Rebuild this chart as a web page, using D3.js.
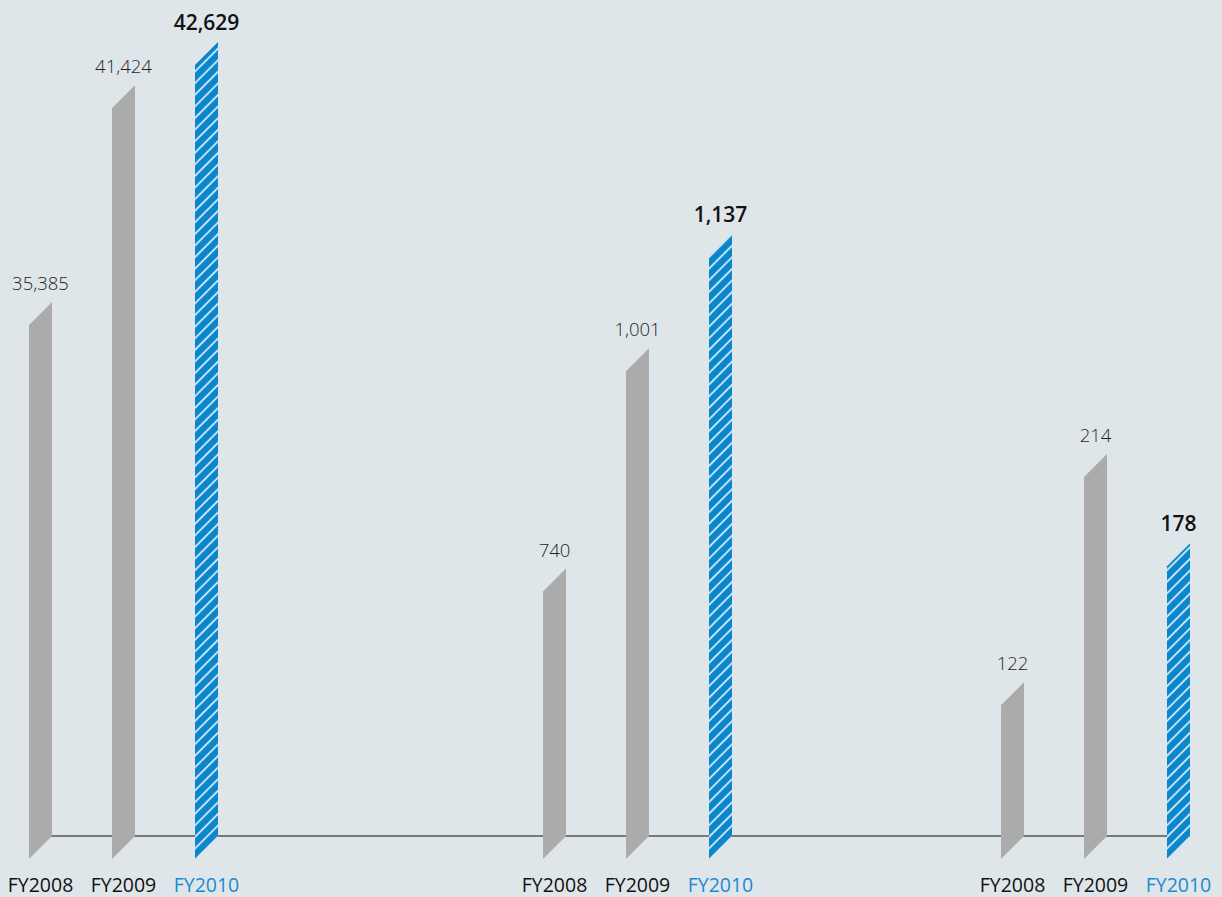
<!DOCTYPE html>
<html>
<head>
<meta charset="utf-8">
<script src="https://cdn.jsdelivr.net/npm/d3@7"></script>
<style>
  html, body { margin: 0; padding: 0; background: #dfe6ea; }
  svg { display: block; font-family: 'Open Sans', 'Noto Sans', sans-serif; }
</style>
</head>
<body>
<div id="chrt"></div>
<script>
// *** three panels, FY2008..FY2010, slanted bars, current year hatched ***
const years = ['FY2008', 'FY2009', 'FY2010'];
const groups = ['g1', 'g2', 'g3'];
const valuesG1 = [35385, 41424, 42629];
const valuesG2 = [740, 1001, 1137];
const valuesG3 = [122, 214, 178];
const valueLabelsG1 = ['35,385', '41,424', '42,629'];
const valueLabelsG2 = ['740', '1,001', '1,137'];
const valueLabelsG3 = ['122', '214', '178'];

const width = 1222;
const height = 897;
const baseY = 836; // baseline of all panels
const topY = 42;
const barW = 23;
const clrGrey = '#aaabaa';
const clrBlue = '#0a86cc';

// every panel has its own (non-zero based) hidden value axis
const panelDomains = [[20500, 42629], [423, 1364], [60, 380]];
const panelX = d3.scaleOrdinal().domain(groups).range([29, 543, 1001]);
const yearX = d3.scaleBand().domain(years).range([0, 83 * 3]).paddingInner(0).paddingOuter(0);

const allValues = [valuesG1, valuesG2, valuesG3];
const allLabels = [valueLabelsG1, valueLabelsG2, valueLabelsG3];

const svg = d3.select('#chrt').append('svg')
    .attr('width', width)
    .attr('height', height);

// hatch pattern for the current year
const defs = svg.append('defs');
const pat = defs.append('pattern')
    .attr('id', 'hatch')
    .attr('patternUnits', 'userSpaceOnUse')
    .attr('width', 8.2)
    .attr('height', 8.2)
    .attr('patternTransform', 'rotate(45)');
pat.append('rect').attr('width', 8.2).attr('height', 8.2).attr('fill', clrBlue);
pat.append('line')
    .attr('x1', 4).attr('y1', 0).attr('x2', 4).attr('y2', 8.2)
    .attr('stroke', '#ffffff')
    .attr('stroke-width', 1.5);

// baseline, drawn first so that the bars sit over it
svg.append('line')
    .attr('x1', panelX('g1'))
    .attr('x2', panelX('g3') + yearX('FY2010') + barW)
    .attr('y1', baseY)
    .attr('y2', baseY)
    .attr('stroke', '#777878')
    .attr('stroke-width', 2);

groups.forEach((g, gi) => {
  const scaleY = d3.scaleLinear().domain(panelDomains[gi]).range([baseY, topY]);
  const rows = years.map((yr, i) => ({ year: yr, value: allValues[gi][i], label: allLabels[gi][i] }));
  const panel = svg.append('g').attr('transform', 'translate(' + panelX(g) + ',0)');

  // slanted bars: top and bottom cut at 45 degrees
  panel.selectAll('.bar')
      .data(rows)
      .enter()
      .append('path')
      .attr('class', 'bar')
      .attr('fill', (d) => d.year === 'FY2010' ? 'url(#hatch)' : clrGrey)
      .attr('d', (d) => {
        const x0 = yearX(d.year);
        const yT = scaleY(d.value);
        return 'M' + x0 + ',' + (yT + barW) + 'L' + (x0 + barW) + ',' + yT +
          'L' + (x0 + barW) + ',' + baseY + 'L' + x0 + ',' + (baseY + barW) + 'Z';
      });

  // value labels
  panel.selectAll('.val')
      .data(rows)
      .enter()
      .append('text')
      .attr('class', 'val')
      .attr('x', (d) => yearX(d.year) + barW / 2)
      .attr('y', (d) => scaleY(d.value) - 12)
      .attr('text-anchor', 'middle')
      .style('font-size', (d) => d.year === 'FY2010' ? '21px' : '18.5px')
      .style('font-weight', (d) => d.year === 'FY2010' ? 600 : 300)
      .style('fill', (d) => d.year === 'FY2010' ? '#111111' : '#1f1f1f')
      .text((d) => d.label);

  // category labels
  panel.selectAll('.cat')
      .data(rows)
      .enter()
      .append('text')
      .attr('class', 'cat')
      .attr('x', (d) => yearX(d.year) + barW / 2)
      .attr('y', 892)
      .attr('text-anchor', 'middle')
      .style('font-size', '19.5px')
      .style('fill', (d) => d.year === 'FY2010' ? '#1a8ad2' : '#111111')
      .text((d) => d.year);
});
</script>
</body>
</html>
